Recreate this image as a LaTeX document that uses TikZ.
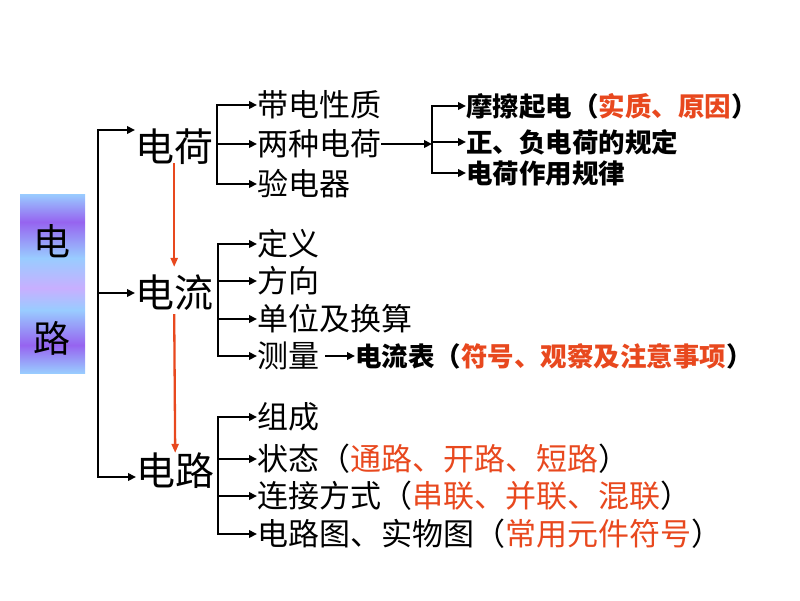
\documentclass[tikz,border=0pt]{standalone}
\usepackage{fontspec}
\setmainfont{Noto Sans CJK SC}
\usetikzlibrary{arrows.meta}

\definecolor{hong}{RGB}{232,72,30}
\definecolor{celeste}{RGB}{153,204,255}
\definecolor{viola}{RGB}{150,100,240}
\definecolor{lilla}{RGB}{200,175,255}

\pgfdeclareverticalshading{fascia}{100bp}{color(0bp)=(celeste); color(25bp)=(celeste); color(32.8bp)=(viola); color(42.6bp)=(celeste); color(48.7bp)=(lilla); color(57.1bp)=(celeste); color(67.2bp)=(viola); color(75bp)=(celeste); color(100bp)=(celeste)}

\tikzset{
  box/.style={inner sep=0pt, font=\fontsize{37}{37}\selectfont},
  titolo/.style={anchor=west, inner sep=0pt, font=\fontsize{39}{39}\selectfont},
  voce/.style={anchor=west, inner sep=0pt, font=\fontsize{31}{31}\selectfont},
  nota/.style={anchor=west, inner sep=0pt, font=\bfseries\fontsize{26.5}{27}\selectfont},
  ramo/.style={line width=2.8pt, line cap=rect},
  freccia/.style={line width=2.8pt, -{Triangle[length=8pt,width=7.5pt]}},
  rossa/.style={hong, line width=2.3pt, -{Triangle[length=9pt,width=7pt]}}
}

\begin{document}
\begin{tikzpicture}[x=1pt,y=-1pt]
	\useasboundingbox (0,0) rectangle (800,600);
	% riquadro
	\shade[shading=fascia] (20,194) rectangle (85,373);
	\node[box] (dian) at (52,241) {电};
	\node[box] (lu) at (52,338) {路};
	% titoli
	\node[titolo] (carica) at (135,147) {电荷};
	\node[titolo] (corrente) at (135,293) {电流};
	\node[titolo] (circuito) at (136,471) {电路};
	% tronco
	\coordinate (t1) at (98,130);
	\coordinate (t2) at (98,293);
	\coordinate (t3) at (98,477);
	\draw[ramo] (t1) -- (t3);
	\draw[freccia] (t1) -- (t1 -| carica.west);
	\draw[freccia] (t2) -- (t2 -| corrente.west);
	\draw[freccia] (t3) -- (t3 -| circuito.west);
	% frecce rosse
	\draw[rossa] ([yshift=2pt]carica.south) -- ([yshift=8pt]corrente.north);
	\draw[rossa] ([yshift=-3pt]corrente.south) -- (circuito.north);
	% voci di carica
	\node[voce] (a1) at (257,105) {带电性质};
	\node[voce] (a2) at (257,144) {两种电荷};
	\node[voce] (a3) at (257,184) {验电器};
	\coordinate (ga) at (217,0);
	\draw[ramo] (ga |- a1.west) -- (ga |- a3.west);
	\draw[freccia] (ga |- a1.west) -- (a1.west);
	\draw[freccia] (ga |- a2.west) -- (a2.west);
	\draw[freccia] (ga |- a3.west) -- (a3.west);
	% note di due cariche
	\node[nota] (b1) at (466,106) {摩擦起电（\textcolor{hong}{实质、原因}）};
	\node[nota] (b2) at (466,142) {正、负电荷的规定};
	\node[nota] (b3) at (466,173) {电荷作用规律};
	\coordinate (gb) at (432,0);
	\draw[freccia] (a2.east) -- (gb |- a2.east);
	\draw[ramo] (gb |- b1.west) -- (gb |- b3.west);
	\draw[freccia] (gb |- b1.west) -- (b1.west);
	\draw[freccia] (gb |- b2.west) -- (b2.west);
	\draw[freccia] (gb |- b3.west) -- (b3.west);
	% voci di corrente
	\node[voce] (c1) at (257,244) {定义};
	\node[voce] (c2) at (257,281) {方向};
	\node[voce] (c3) at (257,319) {单位及换算};
	\node[voce] (c4) at (257,356) {测量};
	\coordinate (gc) at (218,0);
	\draw[ramo] (gc |- c1.west) -- (gc |- c4.west);
	\draw[freccia] (gc |- c1.west) -- (c1.west);
	\draw[freccia] (gc |- c2.west) -- (c2.west);
	\draw[freccia] (gc |- c3.west) -- (c3.west);
	\draw[freccia] (gc |- c4.west) -- (c4.west);
	\node[nota] (amp) at (355,356) {电流表（\textcolor{hong}{符号、观察及注意事项}）};
	\draw[freccia] ([xshift=6pt]c4.east) -- (amp.west);
	% voci di circuito
	\node[voce] (d1) at (257,417) {组成};
	\node[voce] (d2) at (257,459) {状态（\textcolor{hong}{通路、开路、短路}）};
	\node[voce] (d3) at (257,496) {连接方式（\textcolor{hong}{串联、并联、混联}）};
	\node[voce] (d4) at (257,534) {电路图、实物图（\textcolor{hong}{常用元件符号}）};
	\coordinate (gd) at (218,0);
	\draw[ramo] (gd |- d1.west) -- (gd |- d4.west);
	\draw[freccia] (gd |- d1.west) -- (d1.west);
	\draw[freccia] (gd |- d2.west) -- (d2.west);
	\draw[freccia] (gd |- d3.west) -- (d3.west);
	\draw[freccia] (gd |- d4.west) -- (d4.west);
\end{tikzpicture}
\end{document}
